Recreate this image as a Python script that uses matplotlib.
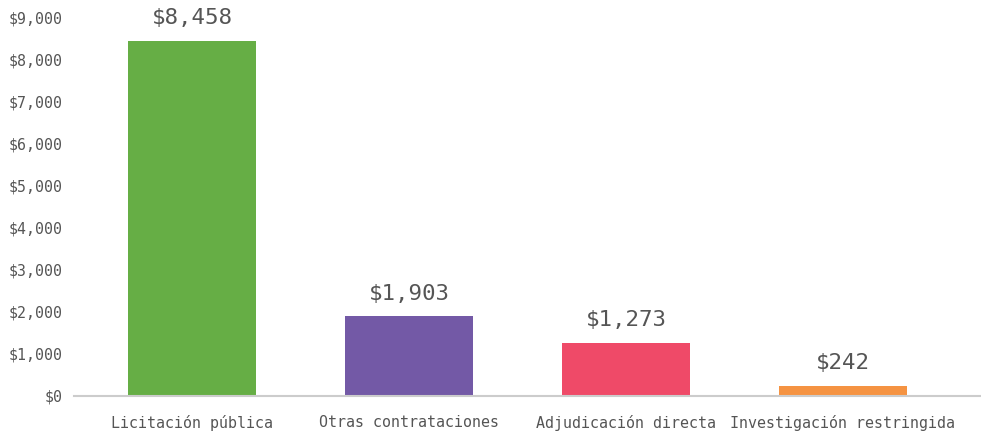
import matplotlib.pyplot as plt
from matplotlib.ticker import FuncFormatter

categorias = ["Licitación pública", "Otras contrataciones", "Adjudicación directa", "Investigación restringida"]
montos = [8458, 1903, 1273, 242]
colores = ["#66ae45", "#7359a6", "#ef4a68", "#f59342"]

plt.rcParams['font.family'] = ['DejaVu Sans Mono', 'DejaVu Sans']

fig = plt.figure(figsize=(9.81, 4.34), dpi=100)
ax = fig.add_axes([74/981, 38/434, 1 - 74/981, 378/434])

x = range(len(categorias))
barras = ax.bar(x, montos, width=0.59, color=colores)

for b, v in zip(barras, montos):
    ax.annotate(f"${v:,}", (b.get_x() + b.get_width()/2, v),
                xytext=(0, 9), textcoords="offset points",
                ha="center", va="bottom", fontsize=16.2, color="#555555",
                annotation_clip=False)

ax.set_xlim(-0.544, 3.636)
ax.set_ylim(0, 9000)
ax.set_yticks(range(0, 9001, 1000))
ax.yaxis.set_major_formatter(FuncFormatter(lambda v, p: f"${int(v):,}"))
ax.set_xticks(list(x))
ax.set_xticklabels(categorias)

for s in ["top", "right", "left"]:
    ax.spines[s].set_visible(False)
ax.spines["bottom"].set_color("#cccccc")
ax.spines["bottom"].set_linewidth(1.5)
ax.tick_params(axis="both", length=0, colors="#555555")
ax.tick_params(axis="y", pad=8, labelsize=10.7)
ax.tick_params(axis="x", pad=14, labelsize=10.8)

fig.savefig("out.png", dpi=100)
